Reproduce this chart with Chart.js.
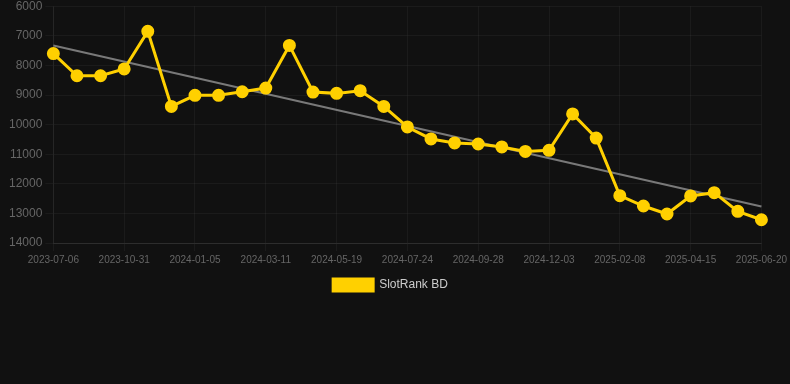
<!DOCTYPE html>
<html>
<head>
<meta charset="utf-8">
<script src="https://cdn.jsdelivr.net/npm/chart.js@4"></script>
<style>
html,body{margin:0;padding:0;background:#111111;overflow:hidden;}
#wrap{width:790px;height:388px;position:relative;margin-top:-4px;}
</style>
</head>
<body>
<div id="wrap"><canvas id="c"></canvas></div>
<script>
const categories = [
  "2023-07-06","2023-08-14","2023-09-22","2023-10-31","2023-11-22","2023-12-14",
  "2024-01-05","2024-01-27","2024-02-18","2024-03-11","2024-04-03","2024-04-26",
  "2024-05-19","2024-06-11","2024-07-02","2024-07-24","2024-08-15","2024-09-06",
  "2024-09-28","2024-10-20","2024-11-11","2024-12-03","2024-12-25","2025-01-17",
  "2025-02-08","2025-03-02","2025-03-24","2025-04-15","2025-05-07","2025-05-29",
  "2025-06-20"
];
const rankValues = [
  7600, 8350, 8350, 8120, 6850, 9385, 9010, 9010, 8890, 8765,
  7325, 8900, 8945, 8855, 9385, 10080, 10485, 10620, 10655, 10755,
  10905, 10870, 9640, 10455, 12400, 12750, 13020, 12410, 12300, 12930,
  13215
];
const trendValues = [7325].concat(new Array(29).fill(null)).concat([12765]);
const yTicks = { min: 6000, max: 14000, step: 1000 };

new Chart(document.getElementById('c'), {
  type: 'line',
  data: {
    labels: categories,
    datasets: [
      {
        label: 'SlotRank BD',
        data: rankValues,
        borderColor: '#ffd000',
        backgroundColor: '#ffd000',
        pointBackgroundColor: '#ffd000',
        pointBorderColor: '#ffd000',
        borderWidth: 3,
        pointRadius: 5,
        tension: 0,
        order: 1
      },
      {
        label: 'trend',
        data: trendValues,
        borderColor: 'rgba(140,140,140,0.85)',
        borderWidth: 2,
        pointRadius: 0,
        spanGaps: true,
        tension: 0,
        order: 2
      }
    ]
  },
  options: {
    responsive: true,
    maintainAspectRatio: false,
    animation: false,
    layout: { padding: { left: 6, right: 15, top: 0, bottom: 83 } },
    scales: {
      x: {
        grid: { color: 'rgba(255,255,255,0.045)' },
        border: { color: 'rgba(255,255,255,0.08)' },
        ticks: {
          color: '#666',
          font: { family: 'Liberation Sans, Arial', size: 10 },
          maxRotation: 0,
          autoSkip: true
        }
      },
      y: {
        reverse: true,
        min: yTicks.min,
        max: yTicks.max,
        grid: { color: 'rgba(255,255,255,0.045)' },
        border: { color: 'rgba(255,255,255,0.05)' },
        ticks: {
          stepSize: yTicks.step,
          color: '#666',
          font: { family: 'Liberation Sans, Arial', size: 12 },
          callback: (v) => String(v)
        }
      }
    },
    plugins: {
      legend: {
        position: 'bottom',
        labels: {
          color: '#ccc',
          font: { family: 'Liberation Sans, Arial', size: 12 },
          boxWidth: 40,
          filter: (item) => item.text !== 'trend'
        }
      },
      tooltip: { enabled: false }
    }
  }
});
</script>
</body>
</html>
